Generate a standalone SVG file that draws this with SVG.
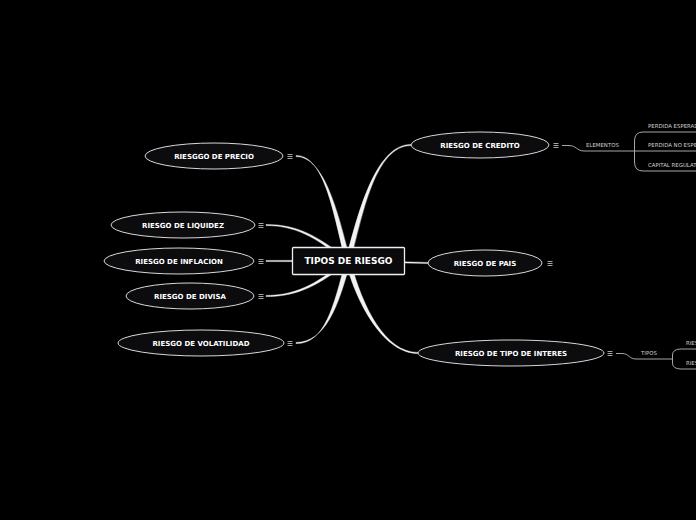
<svg xmlns="http://www.w3.org/2000/svg" width="696" height="520" viewBox="0 0 696 520">
<style>
.bg{fill:#000}
.ell{fill:#0c0c0f;stroke:#d8d8d8;stroke-width:1}
.lbl{font-family:"DejaVu Sans",Verdana,sans-serif;font-weight:bold;font-size:7px;fill:#fff;text-anchor:middle}
.main{font-family:"DejaVu Sans",Verdana,sans-serif;font-weight:bold;font-size:9px;fill:#fff;text-anchor:middle}
.sm{font-family:"DejaVu Sans",Verdana,sans-serif;font-size:5.4px;fill:#cfcfcf}
.conn{fill:#f2f2f2;stroke:#f2f2f2;stroke-width:0.4}
.sub{fill:none;stroke:#b8b8b8;stroke-width:0.9}
.ic{stroke:#cfcfcf;stroke-width:0.8}
</style>
<defs>
<g id="menu"><line class="ic" x1="0" y1="-2" x2="5" y2="-2"/><line class="ic" x1="0" y1="0" x2="5" y2="0"/><line class="ic" x1="0" y1="2" x2="5" y2="2"/></g>
</defs>
<rect class="bg" x="0" y="0" width="696" height="520"/>
<g id="connectors">
<path class="conn" d="M345.5,261 C333.5,215 325,155.4 296,155.4 L296,156.6 C325,156.6 338.5,215 350.5,261 Z"/>
<path class="conn" d="M347,258.5 C320,238.5 300,224.4 266,224.4 L266,225.6 C300,225.6 320,241.5 349,263.5 Z"/>
<path class="conn" d="M348,260.3 L266,260.4 L266,261.6 L348,261.7 Z"/>
<path class="conn" d="M349,258.5 C320,280.5 300,295.4 266,295.4 L266,296.6 C300,296.6 320,283.5 347,263.5 Z"/>
<path class="conn" d="M350.5,261 C338.5,307 325,342.4 296,342.4 L296,343.6 C325,343.6 333.5,307 345.5,261 Z"/>
<path class="conn" d="M345.5,261 C357.5,215 375,144.4 411,144.4 L411,145.6 C375,145.6 362.5,215 350.5,261 Z"/>
<path class="conn" d="M348,260.3 L428,262.4 L428,263.6 L348,261.7 Z"/>
<path class="conn" d="M350.5,261 C362.5,307 385,352.4 418,352.4 L418,353.6 C385,353.6 357.5,307 345.5,261 Z"/>
<path class="sub" d="M562,145.5 L569,145.5 C576,145.5 577,151 584,151 L696,151"/>
<path class="sub" d="M696,132 L643,132 Q634.5,132 634.5,141 L634.5,162 Q634.5,171 643,171 L696,171"/>
<path class="sub" d="M616,353.5 L622,353.5 C629,353.5 629,359 636,359 L672.5,359"/>
<path class="sub" d="M696,349 L681,349 Q672.5,349 672.5,355 L672.5,363 Q672.5,369 681,369 L696,369"/>
</g>
<g id="center">
<rect x="292.5" y="247.5" width="112" height="27" fill="#0a0a0c" stroke="#f0f0f0" stroke-width="1.3" rx="1"/>
<text class="main" x="348.5" y="264.3">TIPOS DE RIESGO</text>
</g>
<g id="precio">
<ellipse class="ell" cx="214" cy="156" rx="69" ry="13"/>
<text class="lbl" x="214" y="158.6">RIESGGO DE PRECIO</text>
<use href="#menu" x="287.5" y="156.5"/>
</g>
<g id="liquidez">
<ellipse class="ell" cx="183" cy="225" rx="72" ry="13"/>
<text class="lbl" x="183" y="227.6">RIESGO DE LIQUIDEZ</text>
<use href="#menu" x="258.5" y="225.5"/>
</g>
<g id="inflacion">
<ellipse class="ell" cx="179" cy="261" rx="75" ry="13"/>
<text class="lbl" x="179" y="263.6">RIESGO DE INFLACION</text>
<use href="#menu" x="258.5" y="261.5"/>
</g>
<g id="divisa">
<ellipse class="ell" cx="190" cy="296" rx="64" ry="13"/>
<text class="lbl" x="190" y="298.6">RIESGO DE DIVISA</text>
<use href="#menu" x="258.5" y="296.5"/>
</g>
<g id="volatilidad">
<ellipse class="ell" cx="201" cy="343" rx="83" ry="13"/>
<text class="lbl" x="201" y="345.6">RIESGO DE VOLATILIDAD</text>
<use href="#menu" x="287.5" y="343.5"/>
</g>
<g id="credito">
<ellipse class="ell" cx="480" cy="145" rx="69" ry="13"/>
<text class="lbl" x="480" y="147.6">RIESGO DE CREDITO</text>
<use href="#menu" x="553.5" y="145.5"/>
</g>
<g id="pais">
<ellipse class="ell" cx="485" cy="263" rx="57" ry="13"/>
<text class="lbl" x="485" y="265.6">RIESGO DE PAIS</text>
<use href="#menu" x="547.5" y="263.5"/>
</g>
<g id="interes">
<ellipse class="ell" cx="511" cy="353" rx="93" ry="13"/>
<text class="lbl" x="511" y="355.6">RIESGO DE TIPO DE INTERES</text>
<use href="#menu" x="607.5" y="353.5"/>
</g>
<g id="elementos"><text class="sm" x="586" y="147.3">ELEMENTOS</text></g>
<g id="perdida-esperada"><text class="sm" x="648" y="128.3">PERDIDA ESPERADA</text></g>
<g id="perdida-no-esperada"><text class="sm" x="648" y="147.3">PERDIDA NO ESPERADA</text></g>
<g id="capital-regulatorio"><text class="sm" x="648" y="167.3">CAPITAL REGULATORIO</text></g>
<g id="tipos"><text class="sm" x="641" y="355.3">TIPOS</text></g>
<g id="tipo1"><text class="sm" x="686" y="345.3">RIESGO</text></g>
<g id="tipo2"><text class="sm" x="686" y="365.3">RIESGO</text></g>
</svg>
